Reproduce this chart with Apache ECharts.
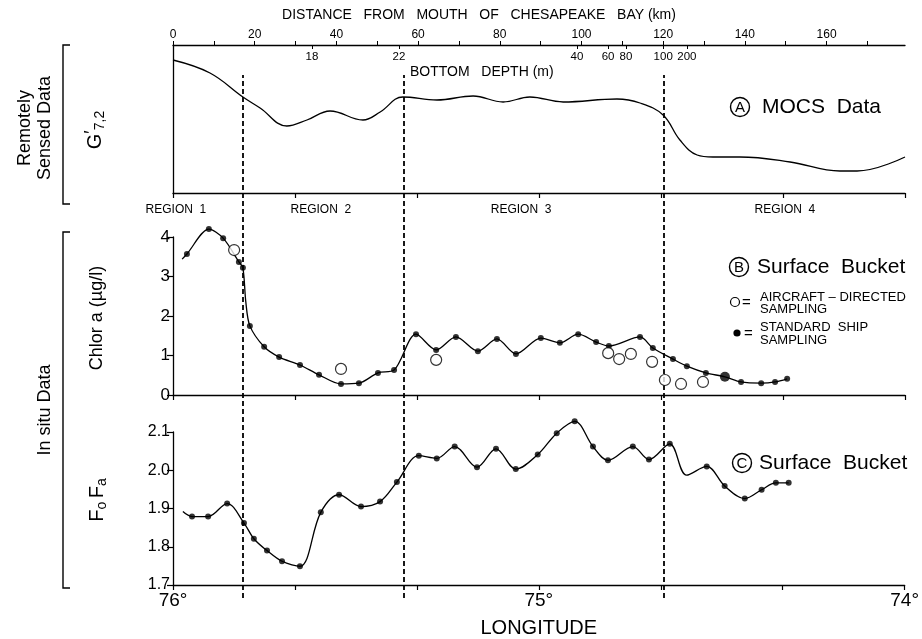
<!DOCTYPE html>
<html><head><meta charset="utf-8">
<script src="https://cdn.jsdelivr.net/npm/echarts@6/dist/echarts.min.js"></script>
<style>html,body{margin:0;padding:0;background:#fff}#c{width:922px;height:639px}</style>
</head><body><div id="c"></div>
<script>
const FONT = '"Liberation Sans", Arial, Helvetica, sans-serif';

// Longitude axis (degrees W), shared by all panels
const lonTickValues = [76, 75 + 2 / 3, 75 + 1 / 3, 75, 74 + 2 / 3, 74 + 1 / 3, 74];
const lonLabelValues = [76, 75, 74];

// Distance from mouth of Chesapeake Bay (km) and bottom depth (m)
const distMax = 179.2;
const distLabelValues = [0, 20, 40, 60, 80, 100, 120, 140, 160];
const distTickValues = [0, 10, 20, 30, 40, 50, 60, 70, 80, 90, 100, 110, 120, 130, 140, 150, 160, 170];
const depthKm = [34.0, 55.3, 98.9, 106.5, 110.9, 120.0, 125.8];
const depthLabels = ['18', '22', '40', '60', '80', '100', '200'];

// Region boundaries (longitude) and region labels
const regionBoundaries = [75.809, 75.369, 74.656];
const regionNames = ['REGION  1', 'REGION  2', 'REGION  3', 'REGION  4'];
const regionLabelLon = [75.992, 75.596, 75.049, 74.328];

// (A) MOCS data, G'7,2 (relative units)
const mocsCurve = [[76.000,133],[75.899,120],[75.809,96],[75.762,85],[75.689,67],[75.634,73],[75.571,82],[75.481,73],[75.434,81],[75.372,96],[75.279,93],[75.180,97],[75.098,91],[75.025,96],[74.934,91],[74.787,94],[74.724,90],[74.661,78],[74.615,53],[74.568,38],[74.525,36],[74.451,36],[74.314,31],[74.178,22],[74.131,22],[74.000,36]];

// (B) Chlorophyll a (ug/l)
const chlorShip = [[75.962,3.57],[75.902,4.20],[75.863,3.97],[75.820,3.37],[75.809,3.22],[75.790,1.75],[75.751,1.22],[75.710,0.96],[75.653,0.76],[75.601,0.51],[75.541,0.28],[75.492,0.30],[75.440,0.56],[75.396,0.63],[75.336,1.54],[75.281,1.14],[75.227,1.47],[75.167,1.11],[75.115,1.42],[75.063,1.04],[74.995,1.44],[74.943,1.32],[74.893,1.54],[74.844,1.34],[74.809,1.24],[74.724,1.47],[74.689,1.19],[74.634,0.91],[74.596,0.73],[74.544,0.56],[74.448,0.33],[74.393,0.30],[74.355,0.33],[74.322,0.41]];
const chlorShipLarge = [[74.492,0.46]];
const chlorCurveExtra = [[75.975,3.44],[75.801,2.35]];
const chlorAircraft = [[75.833,3.67],[75.541,0.66],[75.281,0.89],[74.811,1.06],[74.781,0.91],[74.749,1.04],[74.691,0.84],[74.656,0.38],[74.612,0.28],[74.552,0.33]];

// (C) Fo/Fa
const fluorStations = [[75.948,1.879],[75.904,1.879],[75.852,1.913],[75.806,1.862],[75.779,1.821],[75.743,1.790],[75.702,1.762],[75.653,1.749],[75.596,1.890],[75.546,1.936],[75.486,1.905],[75.434,1.918],[75.388,1.969],[75.328,2.038],[75.279,2.031],[75.230,2.062],[75.169,2.008],[75.117,2.056],[75.063,2.003],[75.003,2.041],[74.951,2.097],[74.902,2.128],[74.852,2.062],[74.811,2.026],[74.743,2.062],[74.699,2.028],[74.642,2.069],[74.541,2.010],[74.492,1.959],[74.437,1.926],[74.391,1.949],[74.352,1.967],[74.317,1.967]];
const fluorCurveExtra = [[75.973,1.892],[74.596,1.987]];

const byLonDesc = (a, b) => b[0] - a[0];
const chlorCurve = chlorShip.concat(chlorShipLarge, chlorCurveExtra).sort(byLonDesc);
const fluorCurve = fluorStations.concat(fluorCurveExtra).sort(byLonDesc);

const black = '#000';
const lineW = 1.3;
function lonAxis(gridIndex, withLabels) {
  return {
    gridIndex, type: 'value', min: 74, max: 76, inverse: true, position: 'bottom',
    axisLine: { show: true, onZero: false, lineStyle: { color: black, width: lineW } },
    axisTick: { show: true, customValues: lonTickValues, length: 5, lineStyle: { color: black, width: 1.2 } },
    axisLabel: withLabels ? { show: true, customValues: lonLabelValues, formatter: v => Math.round(v) + '°',
      fontFamily: FONT, fontSize: 19, color: black, margin: 6 } : { show: false },
    splitLine: { show: false }
  };
}
function depthAxis(idx) {
  const vals = idx.map(i => depthKm[i]);
  return {
    gridIndex: 0, type: 'value', min: 0, max: distMax, position: 'top',
    axisLine: { show: false, onZero: false },
    axisTick: { show: true, inside: true, customValues: vals, length: 4, lineStyle: { color: black } },
    axisLabel: { show: true, inside: true, interval: 0, hideOverlap: false, customValues: vals, margin: 6,
      formatter: v => { const i = depthKm.findIndex(d => Math.abs(d - v) < 1e-6); return i >= 0 ? depthLabels[i] : ''; },
      fontFamily: FONT, fontSize: 11.5, color: black },
    splitLine: { show: false }
  };
}

const chart = echarts.init(document.getElementById('c'));
const option = {
  animation: false,
  backgroundColor: '#fff',
  grid: [
    { left: 173, right: 17, top: 45, height: 148 },
    { left: 173, right: 17, top: 237, height: 158 },
    { left: 173, right: 17, top: 432, height: 156 },
    { left: 173, right: 17, top: 75, height: 523 }
  ],
  xAxis: [
    lonAxis(0, false),
    {
      gridIndex: 0, type: 'value', min: 0, max: distMax, position: 'top',
      axisLine: { show: true, onZero: false, lineStyle: { color: black, width: lineW } },
      axisTick: { show: true, customValues: distTickValues, length: 4, lineStyle: { color: black } },
      axisLabel: { show: true, interval: 0, customValues: distLabelValues, fontFamily: FONT, fontSize: 12, color: black, margin: 4 },
      splitLine: { show: false }
    },
    depthAxis([0, 2, 4, 6]),
    lonAxis(1, false),
    Object.assign(lonAxis(2, true), {
      name: 'LONGITUDE', nameLocation: 'middle', nameGap: 33,
      nameTextStyle: { fontFamily: FONT, fontSize: 20, color: black }
    }),
    { gridIndex: 3, type: 'value', min: 74, max: 76, inverse: true, show: false },
    depthAxis([1, 3, 5])
  ],
  yAxis: [
    { gridIndex: 0, type: 'value', min: 0, max: 148,
      axisLine: { show: true, onZero: false, lineStyle: { color: black, width: lineW } },
      axisTick: { show: false }, axisLabel: { show: false }, splitLine: { show: false } },
    { gridIndex: 1, type: 'value', min: 0, max: 4, interval: 1,
      axisLine: { show: true, onZero: false, lineStyle: { color: black, width: lineW } },
      axisTick: { show: true, length: 6, lineStyle: { color: black, width: 1.2 } },
      axisLabel: { fontFamily: FONT, fontSize: 17, color: black, margin: 3 },
      splitLine: { show: false } },
    { gridIndex: 2, type: 'value', min: 1.7, max: 2.1, interval: 0.1,
      axisLine: { show: true, onZero: false, lineStyle: { color: black, width: lineW } },
      axisTick: { show: true, length: 6, lineStyle: { color: black, width: 1.2 } },
      axisLabel: { fontFamily: FONT, fontSize: 16, color: black, margin: 3, formatter: v => v.toFixed(1) },
      splitLine: { show: false } },
    { gridIndex: 3, type: 'value', min: 0, max: 1, show: false }
  ],
  series: [
    { type: 'line', xAxisIndex: 0, yAxisIndex: 0, data: mocsCurve, smooth: 0.4, symbol: 'none',
      lineStyle: { color: black, width: lineW } },
    { type: 'line', xAxisIndex: 3, yAxisIndex: 1, data: chlorCurve, smooth: 0.3, symbol: 'none', clip: false,
      lineStyle: { color: black, width: lineW } },
    { type: 'scatter', xAxisIndex: 3, yAxisIndex: 1, data: chlorShip, symbolSize: 6, clip: false,
      itemStyle: { color: black } },
    { type: 'scatter', xAxisIndex: 3, yAxisIndex: 1, data: chlorShipLarge, symbolSize: 10, clip: false,
      itemStyle: { color: black } },
    { type: 'scatter', xAxisIndex: 3, yAxisIndex: 1, data: chlorAircraft, symbolSize: 11, clip: false, z: 5,
      itemStyle: { color: '#fff', borderColor: black, borderWidth: 1.2 } },
    { type: 'line', xAxisIndex: 4, yAxisIndex: 2, data: fluorCurve, smooth: 0.35, symbol: 'none', clip: false,
      lineStyle: { color: black, width: lineW } },
    { type: 'scatter', xAxisIndex: 4, yAxisIndex: 2, data: fluorStations, symbolSize: 6, clip: false,
      itemStyle: { color: black } },
    { type: 'line', xAxisIndex: 5, yAxisIndex: 3, data: [], symbol: 'none',
      markLine: { silent: true, symbol: ['none', 'none'], label: { show: false },
        lineStyle: { color: black, type: [5, 3], width: 1.8 },
        data: regionBoundaries.map(v => ({ xAxis: v })) } }
  ]
};
chart.setOption(option);

function txt(x, y, text, size, opts) {
  return Object.assign({ type: 'text', x, y, silent: true,
    style: Object.assign({ text, fill: black, font: size + 'px ' + FONT, align: 'left', verticalAlign: 'middle' }, (opts && opts.style) || {}) },
    (opts && opts.el) || {});
}
function vtxt(x, y, text, size) {
  return { type: 'text', x, y, rotation: Math.PI / 2, silent: true,
    style: { text, fill: black, font: size + 'px ' + FONT, align: 'center', verticalAlign: 'middle' } };
}
function circled(cx, cy, letter) {
  return [
    { type: 'circle', shape: { cx, cy, r: 9.5 }, silent: true, style: { fill: 'none', stroke: black, lineWidth: 1.4 } },
    txt(cx, cy + 1, letter, 15, { style: { align: 'center' } })
  ];
}

const graphics = [];
graphics.push(txt(479, 15, 'DISTANCE   FROM   MOUTH   OF   CHESAPEAKE   BAY (km)', 14, { style: { align: 'center' } }));
graphics.push(txt(410, 72, 'BOTTOM   DEPTH (m)', 14));
regionNames.forEach((n, i) => {
  const px = chart.convertToPixel({ xAxisIndex: 0 }, regionLabelLon[i]);
  graphics.push(txt(px, 210, n, 12, { style: { align: 'center' } }));
});
graphics.push(...circled(740, 107, 'A'));
graphics.push(txt(762, 107, 'MOCS  Data', 21));
graphics.push(...circled(739, 267, 'B'));
graphics.push(txt(757, 267, 'Surface  Bucket', 21));
graphics.push(...circled(742, 463, 'C'));
graphics.push(txt(759, 463, 'Surface  Bucket', 21));
// legend in panel B
graphics.push({ type: 'circle', shape: { cx: 735, cy: 302, r: 4.5 }, silent: true, style: { fill: '#fff', stroke: black, lineWidth: 1.2 } });
graphics.push(txt(742, 303, '=', 15));
graphics.push(txt(760, 297, 'AIRCRAFT – DIRECTED', 13));
graphics.push(txt(760, 309, 'SAMPLING', 13));
graphics.push({ type: 'circle', shape: { cx: 737, cy: 333, r: 3.6 }, silent: true, style: { fill: black } });
graphics.push(txt(744, 334, '=', 15));
graphics.push(txt(760, 327, 'STANDARD  SHIP', 13));
graphics.push(txt(760, 340, 'SAMPLING', 13));
// left side titles and brackets
graphics.push(vtxt(25, 128, 'Remotely', 18));
graphics.push(vtxt(45, 128, 'Sensed Data', 18));
graphics.push(vtxt(45, 410, 'In situ Data', 18));
graphics.push({ type: 'polyline', silent: true, shape: { points: [[70, 45], [63, 45], [63, 204], [70, 204]] }, style: { stroke: black, lineWidth: 1.4, fill: 'none' } });
graphics.push({ type: 'polyline', silent: true, shape: { points: [[70, 232], [63, 232], [63, 588], [70, 588]] }, style: { stroke: black, lineWidth: 1.4, fill: 'none' } });
graphics.push({ type: 'text', x: 95, y: 130, rotation: Math.PI / 2, silent: true,
  style: { text: '{g|G}{p|\u2032}{s|7,2}', align: 'center', verticalAlign: 'middle', fill: black,
    rich: { g: { fontFamily: FONT, fontSize: 20, fill: black },
            p: { fontFamily: FONT, fontSize: 18, fill: black, verticalAlign: 'top' },
            s: { fontFamily: FONT, fontSize: 14, fill: black, padding: [10, 0, 0, 0] } } } });
graphics.push(vtxt(97, 318, 'Chlor a (µg/l)', 18));
graphics.push({ type: 'text', x: 97, y: 500, rotation: Math.PI / 2, silent: true,
  style: { text: '{f|F}{s|o} {f|F}{s|a}', align: 'center', verticalAlign: 'middle', fill: black,
    rich: { f: { fontFamily: FONT, fontSize: 20, fill: black },
            s: { fontFamily: FONT, fontSize: 14, fill: black, padding: [10, 0, 0, 0] } } } });

chart.setOption({ graphic: graphics });
</script>
</body></html>
